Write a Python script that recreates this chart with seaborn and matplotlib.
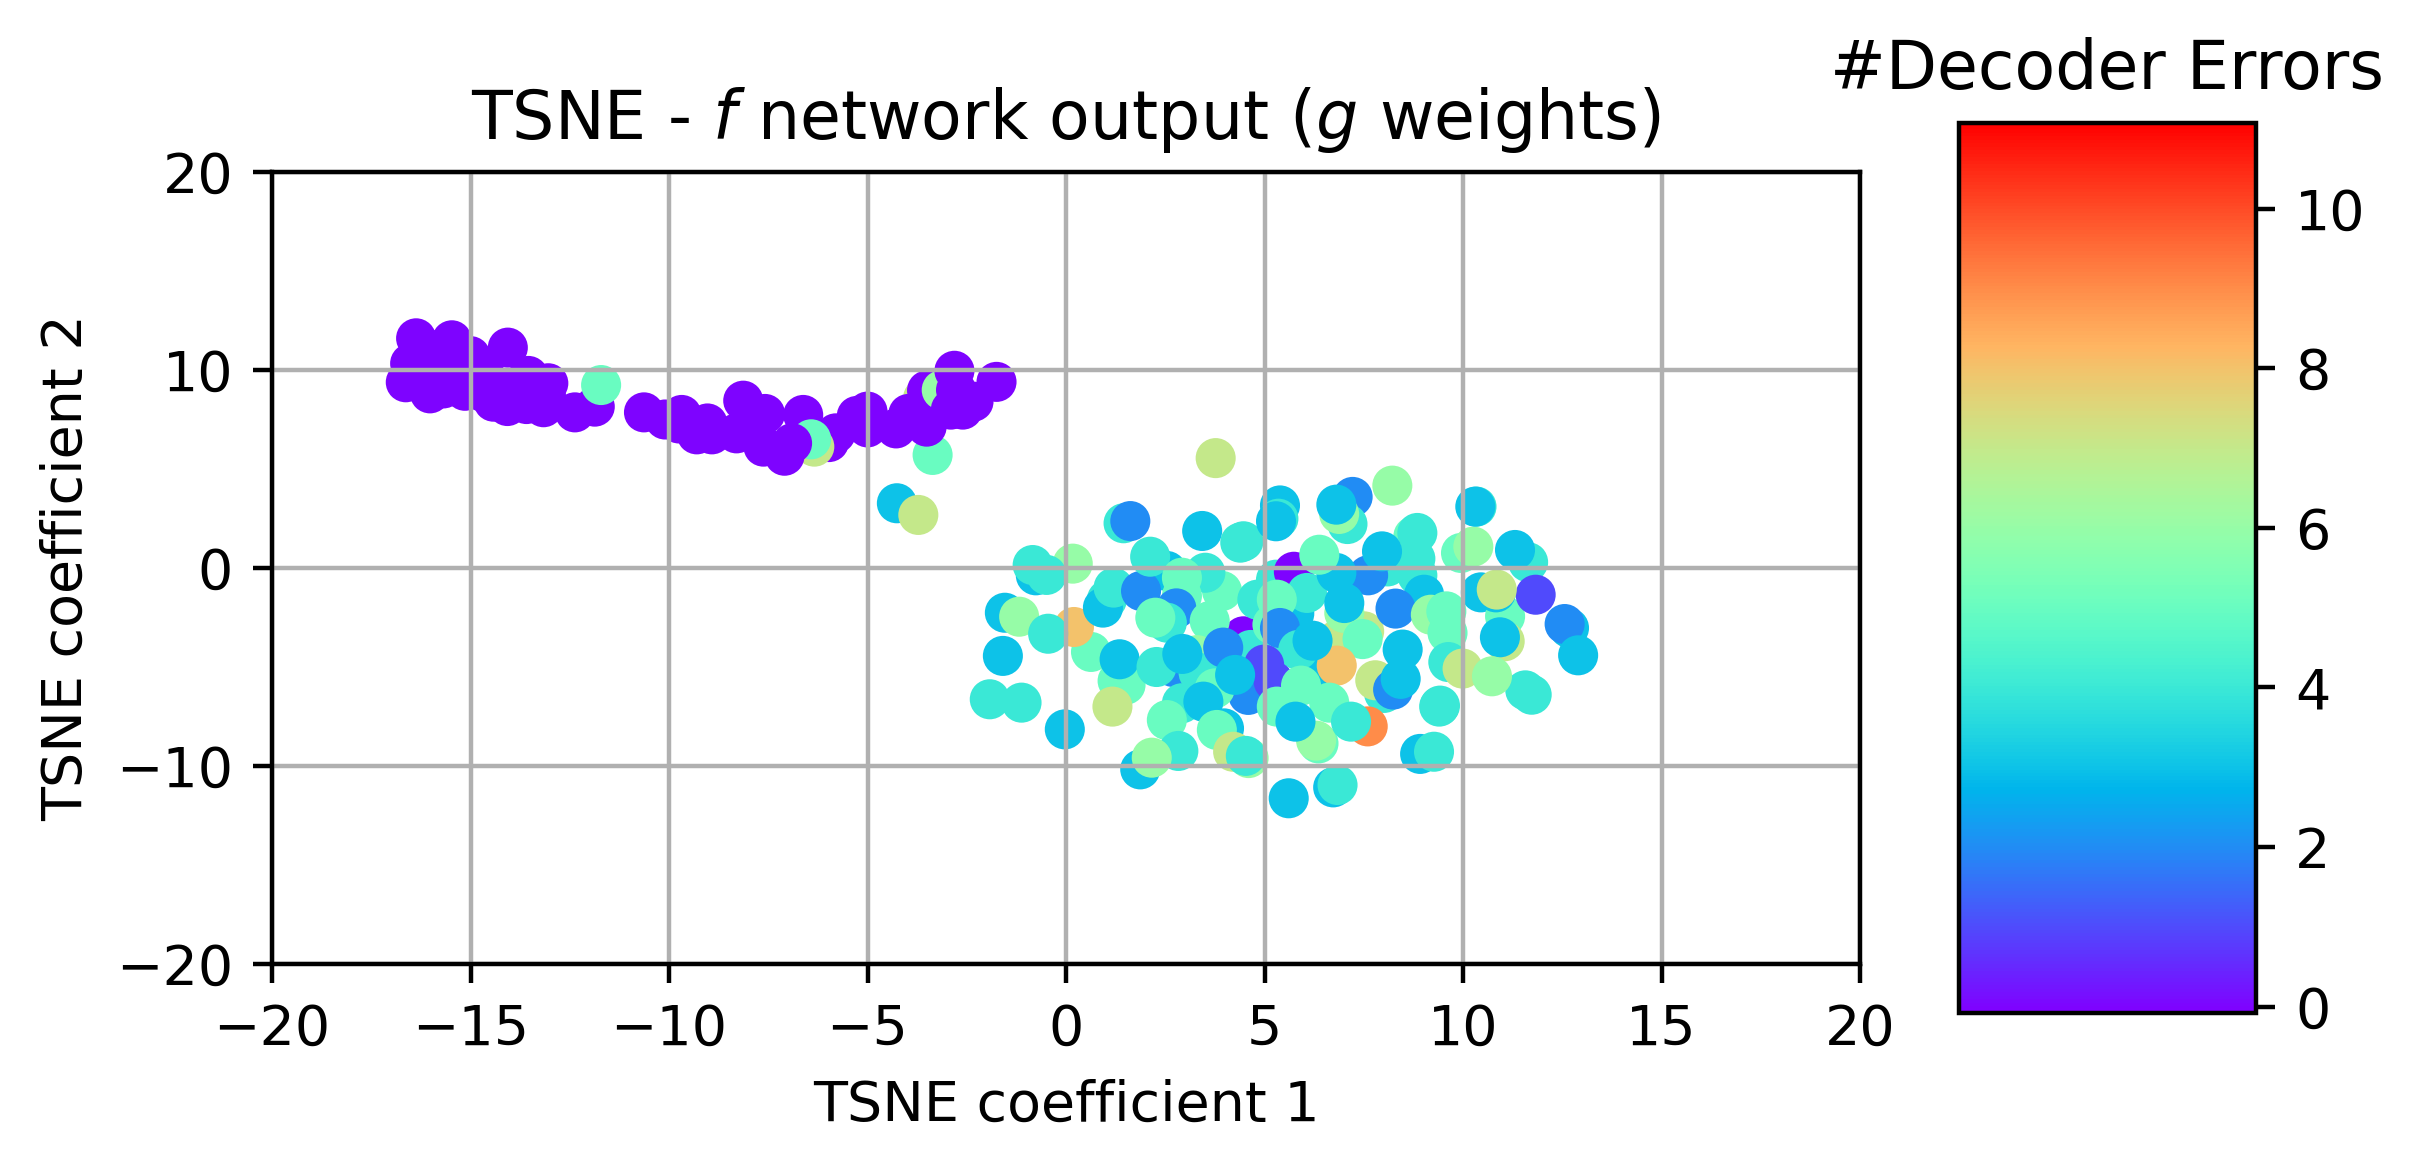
import numpy as np
import pandas as pd
import seaborn as sns
import matplotlib
matplotlib.use("Agg")

import matplotlib.pyplot as plt
from matplotlib.cm import ScalarMappable
from matplotlib.colors import Normalize

# upper strand, drawn first (mostly zero decoder errors)
strand_x = [-5.97, -5.8, -6.62, -3.35, -3.6, -3.36, -3.5, -3.45, -3.13, -6.34, -6.42,
            -16.37, -15.47, -16.52, -16.63, -16.02, -15.68, -15.14, -15.85, -15.43, -15.0, -14.8,
            -15.9, -15.6, -16.2, -15.5, -15.0, -14.7, -14.65, -14.2, -13.6, -13.1,
            -14.06, -14.42, -14.07, -13.54, -13.04, -13.59, -13.16, -12.37, -11.87,
            -10.63, -10.1, -9.75, -9.68, -9.3, -9.03, -8.92, -8.13, -8.3, -7.58, -7.62, -7.09, -6.9,
            -5.27, -5.0, -5.0, -4.28, -3.97, -3.51, -2.81, -2.77, -1.75, -2.33, -2.6, -2.9,
            -11.71]
strand_y = [6.36, 6.8, 7.73, 8.94, 8.58, 5.71, 8.97, 8.3, 8.99, 6.13, 6.5,
            11.6, 11.5, 10.33, 9.38, 8.82, 9.07, 8.95, 10.17, 10.17, 10.7, 10.0,
            11.0, 10.8, 9.8, 9.5, 9.3, 8.9, 9.8, 9.1, 9.0, 8.7,
            11.13, 8.4, 8.18, 9.7, 9.33, 8.28, 8.12, 7.86, 8.15,
            7.86, 7.5, 7.3, 7.73, 6.75, 7.3, 6.75, 8.45, 6.8, 7.78, 6.13, 5.67, 6.3,
            7.68, 7.9, 7.1, 7.05, 7.78, 7.14, 9.96, 8.99, 9.4, 8.4, 8.0, 8.0,
            9.24]
strand_err = [0, 0, 0, 0, 7, 5, 0, 0, 6, 7, 5,
              0, 0, 0, 0, 0, 0, 0, 0, 0, 0, 0,
              0, 0, 0, 0, 0, 0, 0, 0, 0, 0,
              0, 0, 0, 0, 0, 0, 0, 0, 0,
              0, 0, 0, 0, 0, 0, 0, 0, 0, 0, 0, 0, 0,
              0, 0, 0, 0, 0, 0, 0, 0, 0, 0, 0, 0,
              5]

# lower cloud, in drawing order
cloud_x = [-4.26, -3.72, 3.77,
           2.54, -0.76, 0.17, -0.84, -0.49, -1.54, -1.18, 0.63, 0.2, -0.45, -1.59, -1.92, -1.12, -0.03,
           1.3, 1.5, 1.17, 1.35, 1.03, 0.93, 1.2, 1.89, 2.12, 3.93, 3.51, 2.92, 2.92, 2.78, 2.54, 2.25,
           1.45, 1.62, 3.43, 4.39, 4.47, 5.39, 5.35, 5.29,
           4.47, 3.62, 4.65, 5.66, 5.75, 4.82, 5.29, 5.74, 5.2, 6.07, 5.31, 5.39,
           7.22, 7.09, 6.88, 6.81,
           8.22, 8.75, 8.85, 8.1, 8.8, 8.85, 9.02, 7.61, 6.81, 6.38, 7.96,
           7.51, 6.84, 7.01, 7.01, 8.3, 7.47, 6.31, 5.85, 6.82, 6.21,
           9.95, 10.26, 10.34, 10.31, 11.64, 11.31, 10.45, 11.06, 11.83, 10.83, 10.85,
           12.67, 12.56, 12.9, 11.05, 10.93, 11.57, 11.73,
           9.19, 9.61, 9.58, 9.63, 9.99, 10.73, 9.42,
           8.01, 7.79, 8.24, 8.48, 8.43,
           2.7, 2.28, 3.3, 3.34, 2.93, 3.96, 4.59, 4.99, 5.23, 3.75, 4.26, 2.92, 3.46,
           2.54, 3.98, 3.8, 5.31, 5.92, 6.63, 7.6, 6.36, 6.3, 5.78, 7.18,
           2.83, 1.87, 2.16, 4.21, 4.6, 4.53,
           5.61, 6.73, 6.84, 8.92, 9.27, 9.4]
cloud_y = [3.27, 2.68, 5.55,
           -0.15, -0.37, 0.22, 0.15, -0.35, -2.26, -2.46, -4.24, -2.98, -3.32, -4.44, -6.63, -6.8, -8.15,
           -5.7, -5.9, -7.0, -4.61, -1.6, -2.0, -0.99, -1.16, 0.57, -1.16, -0.24, -0.49, -1.41, -2.04, -2.76, -2.51,
           2.26, 2.37, 1.87, 1.28, 1.35, 3.16, 2.49, 2.36,
           -3.45, -2.68, -4.14, -3.94, -2.3, -1.6, -0.59, -0.19, -2.86, -1.26, -1.6, -3.03,
           3.59, 2.22, 2.73, 3.2,
           4.16, 1.6, 1.77, 0.08, 0.47, -0.37, -1.35, -0.37, -0.25, 0.67, 0.84,
           -3.2, -3.62, -2.27, -1.77, -2.05, -3.59, -5.32, -4.14, -4.93, -3.67,
           0.76, 1.08, 3.1, 3.1, 0.29, 0.91, -1.23, -2.44, -1.35, -1.23, -1.09,
           -3.03, -2.83, -4.41, -3.7, -3.5, -6.18, -6.4,
           -2.36, -3.28, -2.19, -4.75, -5.08, -5.47, -6.95,
           -6.31, -5.67, -6.14, -4.12, -5.6,
           -5.0, -5.0, -4.4, -5.29, -4.34, -4.02, -6.41, -4.88, -5.72, -6.08, -5.4, -6.83, -6.75,
           -7.68, -8.1, -8.18, -7.0, -5.94, -6.8, -8.0, -8.86, -8.72, -7.76, -7.76,
           -9.24, -10.17, -9.58, -9.28, -9.6, -9.49,
           -11.63, -11.08, -10.96, -9.39, -9.28, -7.0]
cloud_err = [3, 7, 7,
             3, 3, 6, 4, 4, 3, 6, 5, 8, 4, 3, 4, 4, 3,
             5, 5, 7, 3, 4, 3, 4, 2, 4, 5, 4, 5, 5, 2, 4, 5,
             4, 2, 3, 4, 4, 3, 4, 3,
             0, 5, 4, 4, 3, 4, 4, 0, 5, 4, 5, 2,
             2, 4, 6, 3,
             6, 5, 4, 4, 4, 4, 3, 2, 3, 5, 3,
             7, 7, 6, 3, 2, 5, 3, 4, 8, 3,
             5, 6, 4, 3, 4, 3, 3, 5, 1, 3, 7,
             3, 2, 3, 7, 3, 4, 4,
             6, 5, 5, 4, 7, 6, 4,
             4, 7, 2, 3, 3,
             2, 4, 6, 4, 3, 2, 2, 1, 1, 5, 3, 4, 3,
             5, 3, 5, 5, 5, 5, 9, 5, 6, 3, 4,
             4, 3, 6, 7, 6, 4,
             3, 3, 4, 3, 4, 4]

err_min = -0.08
err_max = 11.08
err_ticks = [0, 2, 4, 6, 8, 10]

df = pd.DataFrame({
    "x": strand_x + cloud_x,
    "y": strand_y + cloud_y,
    "errors": strand_err + cloud_err,
})

W, H = 2426, 1175
fig = plt.figure(figsize=(W / 400, H / 400), dpi=400)
ax = fig.add_axes([272 / W, 1 - 964 / H, 1588 / W, 792 / H])
cax = fig.add_axes([1958.5 / W, 1 - 1013 / H, 297.5 / W, 890.5 / H])

sns.scatterplot(data=df, x="x", y="y", hue="errors", palette="rainbow",
                hue_norm=(err_min, err_max), s=52, linewidth=0, legend=False, ax=ax)

ax.set_xlim(-20, 20)
ax.set_ylim(-20, 20)
ax.set_xticks(np.arange(-20, 21, 5))
ax.set_yticks(np.arange(-20, 21, 10))
ax.grid(True)
ax.set_title(r"TSNE - $f$ network output ($g$ weights)", fontsize=12)
ax.set_xlabel("TSNE coefficient 1")
ax.set_ylabel("TSNE coefficient 2")

sm = ScalarMappable(norm=Normalize(err_min, err_max), cmap="rainbow")
cbar = fig.colorbar(sm, cax=cax)
cbar.set_ticks(err_ticks)
cax.set_title("#Decoder Errors", fontsize=12)

fig.savefig("out.png", dpi=400)
plt.close(fig)
